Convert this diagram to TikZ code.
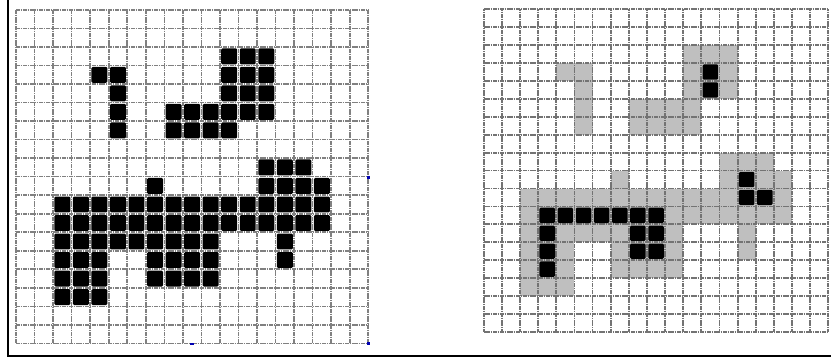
\documentclass[tikz,border=0pt]{standalone}
\begin{document}
\begin{tikzpicture}[x=1pt,y=-1pt,
  blackcell/.style={fill=black, rounded corners=1.2pt},
  graycell/.style={fill=black!25},
  gridline/.style={draw=black!50, line width=1.6pt, dash pattern=on 1.7pt off 0.6pt},
  gridlineR/.style={draw=black!55, line width=1.8pt, dash pattern=on 1.7pt off 0.6pt},
  frameline/.style={draw=black, line width=2.6pt},
  bluemark/.style={fill=blue!70!black}]
\useasboundingbox (0,0) rectangle (831,361);
\fill[white] (0,0) rectangle (831,361);
% ---------- left grid ----------
\begin{scope}[xshift=16pt, yshift=-10pt, x=18.54pt, y=-18.52pt]
  \foreach \i in {0,...,19} \draw[gridline] (\i,0) -- (\i,18);
  \foreach \j in {0,...,18} \draw[gridline] (0,\j) -- (19,\j);
  \foreach \r/\a/\b in {2/11/13, 3/4/5, 3/11/13, 4/5/5, 4/11/13, 5/5/5, 5/8/13,
     6/5/5, 6/8/11, 8/13/15, 9/7/7, 9/13/16, 10/2/16, 11/2/16, 12/2/10, 12/14/14,
     13/2/4, 13/7/10, 13/14/14, 14/2/4, 14/7/10, 15/2/4}
    \foreach \c in {\a,...,\b}
      \fill[blackcell] ([xshift=1.3pt,yshift=-1.3pt]\c,\r) rectangle ([xshift=-1.3pt,yshift=1.3pt]{\c+1},{\r+1});
\end{scope}
% ---------- right grid ----------
\begin{scope}[xshift=483.8pt, yshift=-9.4pt, x=18.13pt, y=-17.91pt]
  \foreach \r/\a/\b in {2/11/13, 3/4/5, 3/11/13, 4/5/5, 4/11/13, 5/5/5, 5/8/11,
     6/5/5, 6/8/11, 8/13/15, 9/7/7, 9/13/16, 10/2/16, 11/2/16, 12/2/10, 12/14/14,
     13/2/4, 13/7/10, 13/14/14, 14/2/4, 14/7/10, 15/2/4}
    \fill[graycell] (\a,\r) rectangle ({\b+1},{\r+1});
  \foreach \i in {0,...,19} \draw[gridlineR] (\i,0) -- (\i,18);
  \foreach \j in {0,...,18} \draw[gridlineR] (0,\j) -- (19,\j);
  \foreach \r/\a/\b in {3/12/12, 4/12/12, 9/14/14, 10/14/15, 11/3/9, 12/3/3,
     12/8/9, 13/3/3, 13/8/9, 14/3/3}
    \foreach \c in {\a,...,\b}
      \fill[blackcell] ([xshift=1.3pt,yshift=-1.3pt]\c,\r) rectangle ([xshift=-1.3pt,yshift=1.3pt]{\c+1},{\r+1});
\end{scope}
% ---------- frame ----------
\draw[frameline] (8,0) -- (8,356) -- (831,356);
% small blue ticks
\fill[bluemark] (367,176) rectangle (369.5,179);
\fill[bluemark] (190,342.5) rectangle (194,344.5);
\fill[bluemark] (367,342) rectangle (369.5,344.5);
\end{tikzpicture}
\end{document}
